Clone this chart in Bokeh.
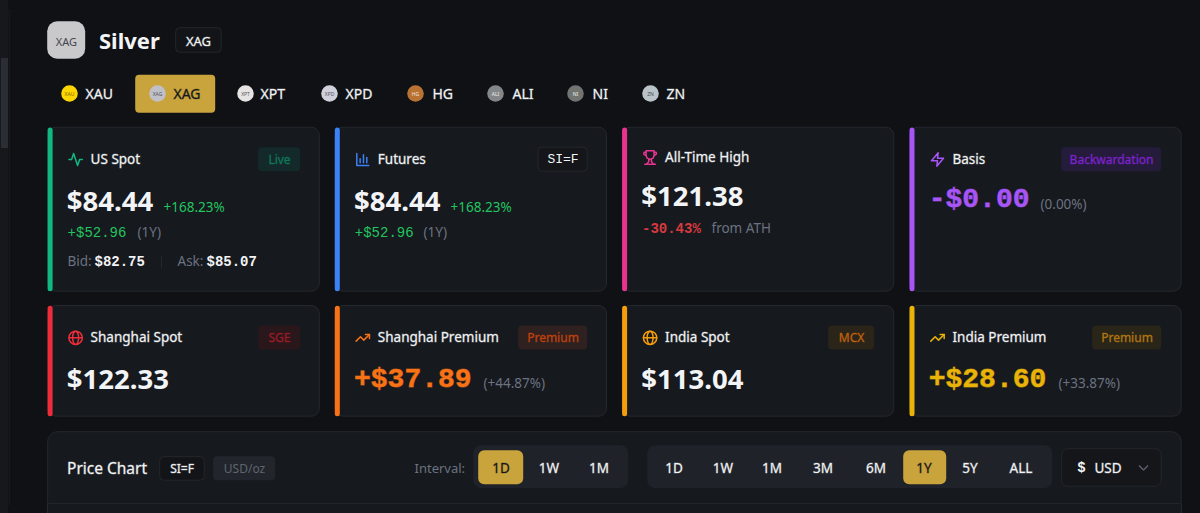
from bokeh.plotting import figure
from bokeh.models import Range1d
from bokeh.core.properties import value
from bokeh.embed import file_html
from bokeh.resources import INLINE

# ---- content ----
asset_name = "Silver"
asset_code = "XAG"
asset_tabs = ["XAU", "XAG", "XPT", "XPD", "HG", "ALI", "NI", "ZN"]
active_tab = "XAG"
card_titles = ["US Spot", "Futures", "All-Time High", "Basis",
               "Shanghai Spot", "Shanghai Premium", "India Spot", "India Premium"]
card_badges = ["Live", "SI=F", None, "Backwardation", "SGE", "Premium", "MCX", "Premium"]
card_values = ["$84.44", "$84.44", "$121.38", "-$0.00", "$122.33", "+$37.89", "$113.04", "+$28.60"]
card_notes = ["+168.23%", "+168.23%", None, "(0.00%)", None, "(+44.87%)", None, "(+33.87%)"]
change_usd = "+$52.96"
change_window = "(1Y)"
ath_drop = "-30.43%"
ath_note = "from ATH"
bid_label, bid_value = "Bid:", "$82.75"
ask_label, ask_value = "Ask:", "$85.07"
chart_title = "Price Chart"
chart_symbol = "SI=F"
chart_unit = "USD/oz"
interval_label = "Interval:"
intervals = ["1D", "1W", "1M"]
ranges = ["1D", "1W", "1M", "3M", "6M", "1Y", "5Y", "ALL"]
active_interval = "1D"
active_range = "1Y"
currency_symbol = "$"
currency = "USD"

# ---- styling ----
PAGE = "#0f1115"; CARD = "#16191e"; EDGE = "#25282d"; GOLD = "#c9a43c"
WHITE = "#f3f4f6"; GREY = "#6b7280"; GREEN = "#22c55e"
SANS = "Noto Sans"; MED = "medium"; MONO = "Liberation Mono"

W, H = 1184, 497
p = figure(width=W, height=H, output_backend="svg", toolbar_location=None,
           x_range=Range1d(8, 8 + W), y_range=Range1d(8 + H, 8),
           min_border=0, background_fill_color=PAGE, border_fill_color=PAGE,
           outline_line_color=None)
p.axis.visible = False
p.grid.visible = False


def T(x, y, s, size=14, color=WHITE, font=SANS, bold=False, align="left", heavy=False):
    extra = {}
    if font == MED:                     # a faint outline stands in for the 500 weight
        font = SANS
        extra["text_outline_color"] = color + "50"
    if heavy:
        extra["text_outline_color"] = color + "90"
    if font == SANS:
        y -= 1
    p.text([x], [y], text=[s], text_font=value(font), text_font_size=f"{size}px",
           text_font_style="bold" if bold else "normal", text_color=color,
           text_align=align, text_baseline="middle", **extra)


def box(x0, x1, y0, y1, fill, line=None, r=6, lw=1):
    p.quad(left=[x0], right=[x1], top=[y0], bottom=[y1], fill_color=fill,
           line_color=line, line_width=lw, border_radius=r)


# lucide-style icons on a 24-unit box
ICONS = {
    "activity": [[(22, 12), (18, 12), (15, 21), (9, 3), (6, 12), (2, 12)]],
    "bars": [[(3, 3), (3, 21), (21, 21)], [(8, 17), (8, 11)], [(13, 17), (13, 5)], [(18, 17), (18, 9)]],
    "trophy": [[(6, 2), (18, 2), (18, 9), (16.5, 13), (12, 15), (7.5, 13), (6, 9), (6, 2)],
               [(6, 4), (3, 4), (2.5, 7), (6, 9)], [(18, 4), (21, 4), (21.5, 7), (18, 9)],
               [(10, 15), (10, 18), (7, 22)], [(14, 15), (14, 18), (17, 22)], [(4, 22), (20, 22)]],
    "zap": [[(13, 2), (3, 14), (12, 14), (11, 22), (21, 10), (12, 10), (13, 2)]],
    "trend": [[(22, 7), (13.5, 15.5), (8.5, 10.5), (2, 17)], [(16, 7), (22, 7), (22, 13)]],
    "globe": [[(2, 12), (22, 12)]],
}


def icon(name, x, y, size, color, lw=1.5):
    k = size / 24
    xs = [[x + a * k for a, _ in path] for path in ICONS[name]]
    ys = [[y + b * k for _, b in path] for path in ICONS[name]]
    p.multi_line(xs, ys, line_color=color, line_width=lw, line_join="round", line_cap="round")
    if name == "globe":
        cx, cy = x + 12 * k, y + 12 * k
        p.circle([cx], [cy], radius=10 * k, fill_color=None, line_color=color, line_width=lw)
        p.ellipse([cx], [cy], width=9 * k, height=20 * k, fill_color=None, line_color=color, line_width=lw)


# sidebar edge
p.quad(left=[8], right=[9], top=[8], bottom=[8 + H], fill_color="#1d2025", line_color=None)

# header
box(46.7, 84.7, 20.7, 58.2, "#c9c9cb", None, r=10)
T(66, 41.5, asset_code, 11, "#44444a", align="center")
T(98.5, 40, asset_name, 22, WHITE, bold=True)
box(175.2, 220.7, 27.2, 51.7, "#121418", "#23262b", r=4)
T(198, 41, asset_code, 13, WHITE, MED, align="center")

# tabs
tab_icon_x = [69, 157, 245, 329, 415, 495, 575, 650]
tab_label_x = [85, 173, 260, 345, 432, 512, 592, 666]
tab_fill = ["#ffd700", "#c0c0c8", "#e5e4e2", "#cfd0dc", "#b87333", "#848789", "#727472", "#bac4c8"]
tab_ink = ["#7a6500", "#55555c", "#55555c", "#55555c", "#f5e6d8", "#f0f0f0", "#f0f0f0", "#444a4d"]
for i, code in enumerate(asset_tabs):
    if code == active_tab:
        box(134.7, 214.7, 74.2, 112.2, GOLD, None, r=4)
    p.circle([tab_icon_x[i]], [93], radius=8.3, fill_color=tab_fill[i], line_color=None)
    T(tab_icon_x[i], 94.3, code, 5, tab_ink[i], align="center")
    T(tab_label_x[i], 94, code, 14, "#15171b" if code == active_tab else WHITE, MED)

# cards
col_x = [46.8, 334, 621.3, 908.7]
row_y = [(126.7, 290.7), (305, 415.7)]
CARD_W = 272
accents = ["#10b981", "#3b82f6", "#e9338f", "#a855f7", "#ef2d3a", "#f97316", "#f59e0b", "#eab308"]
icons = ["activity", "bars", "trophy", "zap", "globe", "trend", "globe", "trend"]
badge_left = [258, 538, None, 1061, 258, 518, 828, 1092]
badge_right = [300, 587, None, 1161, 300, 587, 874, 1161]
badge_fill = ["#13292a", "#14161a", None, "#251b3a", "#2a171c", "#2e2120", "#2b2419", "#2a2519"]
badge_ink = ["#0f7a58", WHITE, None, "#7e22ce", "#9b1b25", "#c2410c", "#c2620c", "#b4770f"]
badge_edge = [None, "#24272c", None, None, None, None, None, None]
value_ink = [WHITE, WHITE, WHITE, "#a855f7", WHITE, "#f97316", WHITE, "#eab308"]
note_x = [163, 450, None, 1040, None, 483, None, 1058]
note_ink = [GREEN, GREEN, None, GREY, None, GREY, None, GREY]
note_dy = [6, 6, None, 5, None, 4, None, 4]

for i, title in enumerate(card_titles):
    col, row = i % 4, i // 4
    x0 = col_x[col]
    y0, y1 = row_y[row]
    box(x0 + .5, x0 + CARD_W, y0, y1, CARD, EDGE, r=8)
    box(x0 + .3, x0 + 5.3, y0 + .3, y1, accents[i], None, r=4)
    tx = x0 + 20.3
    head = 157 if title == "All-Time High" else y0 + 32.3
    icon(icons[i], tx, head - 8, 16, accents[i])
    T(x0 + 43.3, head + .5, title, 13.5, WHITE, MED)
    if card_badges[i]:
        box(badge_left[i] - .3, badge_right[i] - .3, head - 12.3, head + 11.7, badge_fill[i], badge_edge[i], r=4)
        mono = card_badges[i] == "SI=F"
        T((badge_left[i] + badge_right[i]) / 2, head + (0 if mono else .5), card_badges[i],
          13 if mono else 12, badge_ink[i], MONO if mono else MED, align="center")
    vy = {0: 201, 1: 201, 2: 196, 3: 199}.get(i, 379)
    use_mono = value_ink[i] != WHITE
    T(tx - .8, vy, card_values[i], 28 if use_mono else 27.5, value_ink[i],
      MONO if use_mono else SANS, bold=True, heavy=use_mono)
    if card_notes[i]:
        T(note_x[i], vy + note_dy[i], card_notes[i], 13.5, note_ink[i])

for x0, xnote in zip(col_x[:2], (137, 423)):
    T(x0 + 20.3, 232, change_usd, 14, GREEN, MONO)
    T(xnote, 232.5, change_window, 13.5, GREY)

T(641.5, 228, ath_drop, 14, "#d63a3f", MONO, bold=True)
T(711, 228.5, ath_note, 13.5, GREY)

T(67, 261.5, bid_label, 13.5, GREY)
T(94, 261, bid_value, 14, WHITE, MONO, bold=True)
p.segment([161], [256], [161], [267], line_color="#25282d")
T(177, 261.5, ask_label, 13.5, GREY)
T(206, 261, ask_value, 14, WHITE, MONO, bold=True)

# chart panel
box(47.2, 1180.7, 431.2, 540, CARD, EDGE, r=10)
p.segment([48], [503], [1180], [503], line_color="#212429")
T(66.5, 468.5, chart_title, 15.5, WHITE, MED)
box(159.2, 203.7, 456.2, 479.7, "#121418", "#24272c", r=4)
T(181.5, 468.5, chart_symbol, 12, WHITE, MED, align="center")
box(212.7, 274.7, 455.7, 479.7, "#22252b", None, r=4)
T(244, 468.5, chart_unit, 12, "#5f6570", align="center")
T(414, 468.5, interval_label, 13, GREY)

box(472.7, 627.7, 444.7, 487.7, "#1f2228", None, r=8)
interval_x = [501, 549, 599]
for x, label in zip(interval_x, intervals):
    if label == active_interval:
        box(x - 23.3, x + 21.7, 449.7, 483.7, GOLD, None, r=6)
    T(x - .5, 468.5, label, 13.5, "#15171b" if label == active_interval else WHITE, MED, align="center")

box(646.7, 1051.7, 444.7, 487.7, "#1f2228", None, r=8)
range_x = [674, 723, 772, 823, 876, 924, 970, 1021]
for x, label in zip(range_x, ranges):
    if label == active_range:
        box(x - 21.3, x + 21.7, 449.7, 483.7, GOLD, None, r=6)
    T(x - .5, 468.5, label, 13.5, "#15171b" if label == active_range else WHITE, MED, align="center")

box(1061.2, 1160.7, 448.2, 485.7, "#14161a", "#23262b", r=6)
T(1081, 467, currency_symbol, 14, WHITE, MONO, bold=True, align="center")
T(1094, 468, currency, 13.5, WHITE, MED)
p.line([1138.5, 1143, 1147.5], [465, 469.5, 465], line_color="#5f6570", line_width=1.2)

# keep the 8px page margin; the margin shows the page colour, the scrollbar and the panel strip
TEMPLATE = """{% block postamble %}<style>
html{margin:0;padding:0;height:100%;overflow:hidden;background:
linear-gradient(#2a2d33,#2a2d33) 1px 58px/7px 90px no-repeat,
linear-gradient(#16181c,#16181c) 0 0/8px 100% no-repeat,
linear-gradient(#25282d,#25282d) 47px 505px/1px 8px no-repeat,
linear-gradient(#25282d,#25282d) 1181px 505px/1px 8px no-repeat,
linear-gradient(#16191e,#16191e) 47px 505px/1134px 8px no-repeat,
#0f1115;}
body{margin:8px;padding:0;height:auto;background:transparent;}
</style>{% endblock %}"""

open("out.html", "w").write(file_html(p, INLINE, template=TEMPLATE))
